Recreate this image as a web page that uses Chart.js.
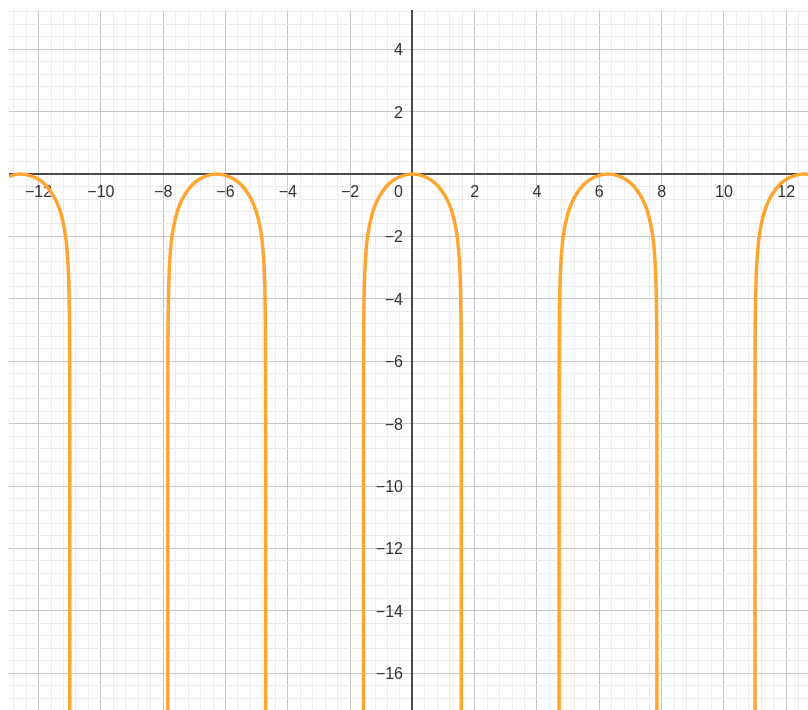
<!DOCTYPE html>
<html>
<head>
<meta charset="utf-8">
<title>ln(cos x)</title>
<script src="https://cdn.jsdelivr.net/npm/chart.js@4.4.1/dist/chart.umd.min.js"></script>
<style>
  html, body { margin: 0; padding: 0; background: #fff; }
  #wrap { width: 808px; height: 710px; }
</style>
</head>
<body>
<div id="wrap"><canvas id="graph"></canvas></div>
<script>
// one arch, right half: distance from the arch centre and the height there
const archDx = [0, 0.3, 0.6, 0.8, 1.0, 1.1, 1.2, 1.3, 1.4, 1.45, 1.5, 1.53, 1.55, 1.56, 1.565, 1.568, 1.5705, 1.5707];
const archY = [0, -0.05, -0.19, -0.36, -0.62, -0.79, -1.01, -1.31, -1.76, -2.09, -2.65, -3.2, -3.93, -4.6, -5.2, -6.3, -8.2, -18];
// centres of the arches along the x axis
const archCenters = [-12.57, -6.28, 0, 6.28, 12.57];

const xTickLabels = [-12, -10, -8, -6, -4, -2, 2, 4, 6, 8, 10, 12];
const yTickLabels = [4, 2, -2, -4, -6, -8, -10, -12, -14, -16];

const view = { xMin: -12.95, xMax: 12.7, yMin: -17.18, yMax: 5.26 };

function archPoints(c) {
  const pts = [];
  for (let i = archDx.length - 1; i > 0; i--) pts.push({ x: c - archDx[i], y: archY[i] });
  for (let i = 0; i < archDx.length; i++) pts.push({ x: c + archDx[i], y: archY[i] });
  return pts;
}

const datasets = archCenters.map(c => ({
  data: archPoints(c),
  showLine: true,
  borderColor: '#ffa632',
  borderWidth: 3.5,
  pointRadius: 0,
  cubicInterpolationMode: 'monotone',
  fill: false
}));

const minus = v => (v < 0 ? '\u2212' + Math.abs(v) : String(v));

function gridTicks(scale) {
  const step = 0.4;
  const ticks = [];
  for (let k = Math.ceil(scale.min / step); k <= Math.floor(scale.max / step); k++) {
    ticks.push({ value: +(k * step).toFixed(4) });
  }
  scale.ticks = ticks;
}

function gridColor(ctx) {
  const v = ctx.tick ? ctx.tick.value : 1;
  if (Math.abs(v / 2 - Math.round(v / 2)) < 1e-6) return '#c6c6c6';
  return '#ececec';
}

// axis lines and the numbers next to them, placed through the scales
const axes = {
  id: 'axes',
  beforeDatasetsDraw(chart) {
    const { ctx, chartArea: a, scales: { x, y } } = chart;
    const ox = Math.round(x.getPixelForValue(0));
    const oy = Math.round(y.getPixelForValue(0));
    ctx.save();
    ctx.strokeStyle = '#4a4a4a';
    ctx.lineWidth = 2;
    ctx.beginPath();
    ctx.moveTo(a.left, oy);
    ctx.lineTo(a.right, oy);
    ctx.moveTo(ox, a.top);
    ctx.lineTo(ox, a.bottom);
    ctx.stroke();

    ctx.font = '16px "Liberation Sans", Arial, sans-serif';
    ctx.fillStyle = '#333';
    ctx.textBaseline = 'alphabetic';
    ctx.textAlign = 'center';
    xTickLabels.forEach(v => ctx.fillText(minus(v), x.getPixelForValue(v), oy + 23));
    ctx.textAlign = 'right';
    yTickLabels.forEach(v => ctx.fillText(minus(v), ox - 9, y.getPixelForValue(v) + 6));
    ctx.fillText('0', ox - 9, oy + 23);
    ctx.restore();
  }
};

new Chart(document.getElementById('graph'), {
  type: 'scatter',
  data: { datasets },
  options: {
    responsive: true,
    maintainAspectRatio: false,
    animation: false,
    layout: { padding: { left: 9, top: 10, right: 0, bottom: 0 } },
    plugins: { legend: { display: false }, tooltip: { enabled: false } },
    scales: {
      x: {
        type: 'linear',
        min: view.xMin,
        max: view.xMax,
        afterBuildTicks: gridTicks,
        ticks: { display: false },
        border: { display: false },
        grid: { color: gridColor, lineWidth: 1, drawTicks: false }
      },
      y: {
        type: 'linear',
        min: view.yMin,
        max: view.yMax,
        afterBuildTicks: gridTicks,
        ticks: { display: false },
        border: { display: false },
        grid: { color: gridColor, lineWidth: 1, drawTicks: false }
      }
    }
  },
  plugins: [axes]
});
</script>
</body>
</html>
